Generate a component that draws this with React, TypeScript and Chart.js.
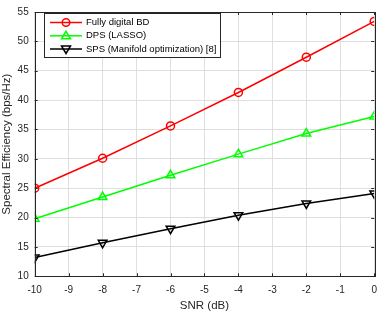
import React, { useEffect, useRef } from "react";
import { Chart, registerables } from "chart.js";

Chart.register(...registerables);

const snr = [-10, -8, -6, -4, -2, 0];
const fullyDigital = [25.0, 30.1, 35.6, 41.3, 47.3, 53.4];
const dpsLasso = [19.8, 23.5, 27.2, 30.8, 34.3, 37.2];
const spsManifold = [13.2, 15.7, 18.1, 20.4, 22.4, 24.1];
const xTicks = [-10, -9, -8, -7, -6, -5, -4, -3, -2, -1, 0];
const yTicks = [10, 15, 20, 25, 30, 35, 40, 45, 50, 55];
const seriesNames = ["Fully digital BD", "DPS (LASSO)", "SPS (Manifold optimization) [8]"];

const FONT = "'Liberation Sans', Arial, sans-serif";
const AXIS = "#262626";

const boxPlugin = {
  id: "boxPlugin",
  afterDraw(chart: any) {
    const { ctx, chartArea: a, scales } = chart;
    ctx.save();
    ctx.strokeStyle = AXIS;
    ctx.lineWidth = 1;
    // inner ticks
    ctx.beginPath();
    xTicks.forEach((v) => {
      const x = Math.round(scales.x.getPixelForValue(v)) + 0.5;
      ctx.moveTo(x, a.bottom);
      ctx.lineTo(x, a.bottom - 3);
      ctx.moveTo(x, a.top);
      ctx.lineTo(x, a.top + 3);
    });
    yTicks.forEach((v) => {
      const y = Math.round(scales.y.getPixelForValue(v)) + 0.5;
      ctx.moveTo(a.left, y);
      ctx.lineTo(a.left + 3, y);
      ctx.moveTo(a.right, y);
      ctx.lineTo(a.right - 3, y);
    });
    ctx.stroke();
    ctx.strokeRect(Math.round(a.left) + 0.5, Math.round(a.top) + 0.5, Math.round(a.right - a.left), Math.round(a.bottom - a.top));

    // legend
    const lx = 44.5, ly = 13.5, lw = 176, lh = 44;
    ctx.fillStyle = "#ffffff";
    ctx.fillRect(lx, ly, lw, lh);
    ctx.strokeStyle = AXIS;
    ctx.strokeRect(lx, ly, lw, lh);
    const rows = [22.5, 35.8, 49];
    chart.data.datasets.forEach((ds: any, i: number) => {
      const y = rows[i];
      ctx.strokeStyle = ds.borderColor;
      ctx.lineWidth = 1.5;
      ctx.beginPath();
      ctx.moveTo(50, y);
      ctx.lineTo(82, y);
      ctx.stroke();
      ctx.beginPath();
      if (i === 0) {
        ctx.arc(66, y, 3.8, 0, Math.PI * 2);
      } else if (i === 1) {
        ctx.moveTo(66, y - 4.5);
        ctx.lineTo(70.5, y + 3);
        ctx.lineTo(61.5, y + 3);
        ctx.closePath();
      } else {
        ctx.moveTo(66, y + 4.5);
        ctx.lineTo(70.5, y - 3);
        ctx.lineTo(61.5, y - 3);
        ctx.closePath();
      }
      ctx.stroke();
      ctx.fillStyle = "#000";
      ctx.font = `9.5px ${FONT}`;
      ctx.textBaseline = "middle";
      ctx.textAlign = "left";
      ctx.fillText(seriesNames[i], 86, y);
    });
    ctx.restore();
  },
};

export default function App() {
  const ref = useRef<HTMLCanvasElement>(null);
  useEffect(() => {
    document.body.style.margin = "0";
    const mk = (x: number[], y: number[]) => x.map((v, i) => ({ x: v, y: y[i] }));
    const chart = new Chart(ref.current!, {
      type: "line",
      data: {
        datasets: [
          {
            label: seriesNames[0],
            data: mk(snr, fullyDigital),
            borderColor: "#ff0000",
            backgroundColor: "rgba(0,0,0,0)",
            borderWidth: 1.5,
            pointStyle: "circle",
            pointRadius: 4,
            pointBorderWidth: 1.5,
          },
          {
            label: seriesNames[1],
            data: mk(snr, dpsLasso),
            borderColor: "#00ff00",
            backgroundColor: "rgba(0,0,0,0)",
            borderWidth: 1.5,
            pointStyle: "triangle",
            pointRadius: 5,
            pointBorderWidth: 1.5,
          },
          {
            label: seriesNames[2],
            data: mk(snr, spsManifold),
            borderColor: "#000000",
            backgroundColor: "rgba(0,0,0,0)",
            borderWidth: 1.5,
            pointStyle: "triangle",
            pointRotation: 180,
            pointRadius: 5,
            pointBorderWidth: 1.5,
          },
        ],
      },
      options: {
        animation: false,
        responsive: false,
        layout: { padding: { top: 4, right: 6, left: 0, bottom: 0 } },
        plugins: { legend: { display: false }, tooltip: { enabled: false } },
        scales: {
          x: {
            type: "linear",
            min: -10,
            max: 0,
            afterBuildTicks: (s: any) => {
              s.ticks = xTicks.map((v) => ({ value: v }));
            },
            afterFit: (s: any) => {
              s.height = 36.7;
            },
            grid: { color: "#dfdfdf", drawTicks: false },
            border: { display: false },
            ticks: { color: AXIS, font: { family: FONT, size: 10 }, padding: 8, maxRotation: 0 },
            title: { display: true, text: "SNR (dB)", color: AXIS, font: { family: FONT, size: 11.5 }, padding: { top: 1, bottom: 0 } },
          },
          y: {
            type: "linear",
            min: 10,
            max: 55,
            afterBuildTicks: (s: any) => {
              s.ticks = yTicks.map((v) => ({ value: v }));
            },
            afterFit: (s: any) => {
              s.width = 34.7;
            },
            grid: { color: "#dfdfdf", drawTicks: false },
            border: { display: false },
            ticks: { color: AXIS, font: { family: FONT, size: 10 }, padding: 6 },
            title: { display: true, text: "Spectral Efficiency (bps/Hz)", color: AXIS, font: { family: FONT, size: 11.5 }, padding: { top: 0, bottom: 0 } },
          },
        },
      },
      plugins: [boxPlugin],
    } as any);
    return () => chart.destroy();
  }, []);
  return (
    <div style={{ position: "absolute", left: 0, top: 0, width: 385, height: 313 }}>
      <canvas ref={ref} width={385} height={313} />
    </div>
  );
}
